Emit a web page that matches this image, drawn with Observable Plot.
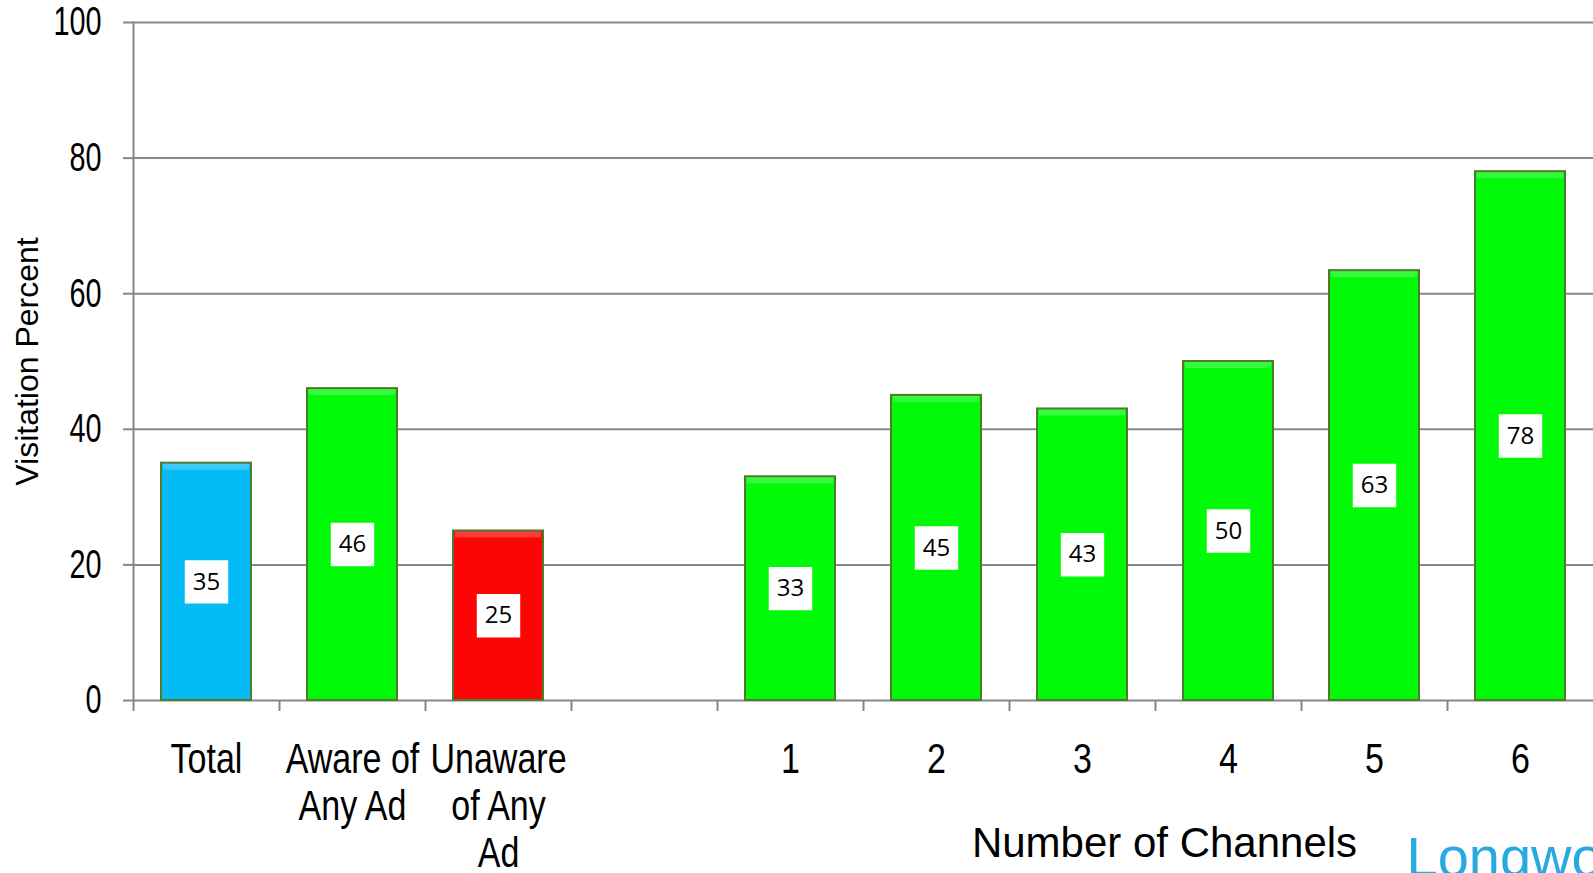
<!DOCTYPE html>
<html><head><meta charset="utf-8">
<script src="https://cdn.jsdelivr.net/npm/d3@7"></script>
<script src="https://cdn.jsdelivr.net/npm/@observablehq/plot@0.6"></script>
<style>
html,body{margin:0;padding:0;background:#fff;}
#chart svg{display:block;}
</style></head><body><div id="chart"></div>
<script>
// ---- data ----
const categories = ["Total", "Aware of Any Ad", "Unaware of Any Ad", " ", "1", "2", "3", "4", "5", "6"];
const tickLabels = ["Total", "Aware of\nAny Ad", "Unaware\nof Any\nAd", "", "1", "2", "3", "4", "5", "6"];
const barCategories = ["Total", "Aware of Any Ad", "Unaware of Any Ad", "1", "2", "3", "4", "5", "6"];
const barGroups = ["Total", "Aware", "Unaware", "Channels", "Channels", "Channels", "Channels", "Channels", "Channels"];
const visitationPercent = [35, 46, 25, 33, 45, 43, 50, 63.4, 78];
const yTicks = [0, 20, 40, 60, 80, 100];
const yLabel = "Visitation Percent";
const xLabel = "Number of Channels";
const logoText = "Longwoods";

// ---- styling ----
const groupDomain = ["Total", "Aware", "Unaware", "Channels"];
const groupColors = ["#05BBF5", "#00FA08", "#FE0505", "#00FA08"];
const W = 1593, H = 873, mL = 133, mR = 0, mT = 22, mB = 173;
const step = (W - mL - mR) / categories.length;
const sans = "'Liberation Sans',Arial,sans-serif";
const gray = "#878787";
const fmt = d3.format(".0f");

const data = barCategories.map((c, i) => ({cat: c, value: visitationPercent[i], group: barGroups[i]}));

const plot = Plot.plot({
  width: W, height: H,
  marginLeft: mL, marginRight: mR, marginTop: mT, marginBottom: mB,
  style: {fontFamily: sans, background: "#fff", overflow: "visible", color: "#000"},
  x: {type: "band", domain: categories, padding: 0, axis: null},
  y: {domain: [0, 100], axis: null},
  color: {domain: groupDomain, range: groupColors},
  marks: [
    Plot.gridY(yTicks, {stroke: gray, strokeOpacity: 1, strokeWidth: 2}),
    Plot.frame({anchor: "left", stroke: gray, strokeWidth: 2}),
    Plot.axisY(yTicks, {tickSize: 10, tickPadding: 22, stroke: gray, strokeWidth: 2, strokeOpacity: 1,
      fontSize: 40, fill: "#000", label: null}),
    Plot.axisX({tickSize: 11, tickFormat: () => "", dx: -step / 2, stroke: gray, strokeWidth: 2, strokeOpacity: 1, label: null}),
    Plot.axisX({tickSize: 0, tickPadding: 39, tickFormat: d => tickLabels[categories.indexOf(d)],
      fontSize: 42, lineHeight: 1.12, fill: "#000", label: null}),
    Plot.barY(data, {x: "cat", y: "value", fill: "group", stroke: "#4E7B2E", strokeWidth: 2,
      insetLeft: 28, insetRight: 28, style: "filter: drop-shadow(2px 1px 1.5px rgba(0,0,0,0.35))"}),
    Plot.barY(data, {x: "cat", y1: "value", y2: "value", fill: "#fff", fillOpacity: 0.22,
      insetLeft: 30, insetRight: 30, insetTop: 1, insetBottom: -7}),
    Plot.dot(data, {x: "cat", y: d => d.value / 2, symbol: "square", r: 24.5, fill: "#fff", stroke: null}),
    Plot.text(data, {x: "cat", y: d => d.value / 2, text: d => fmt(d.value), fontSize: 24,
      fontFamily: "'Open Sans',sans-serif", fill: "#000"}),
    Plot.text([yLabel], {frameAnchor: "left", textAnchor: "middle", rotate: -90, dx: -106, fontSize: 32, fill: "#000"}),
    Plot.text([xLabel], {frameAnchor: "bottom", x: () => "4", dx: -64, dy: 143, lineAnchor: "middle", fontSize: 42, fill: "#000"}),
    Plot.text([logoText], {frameAnchor: "bottom-right", textAnchor: "start", lineAnchor: "top", dx: -187, dy: 136,
      fontSize: 56, fill: "#29A9E1", fontFamily: sans})
  ]
});
// emulate the condensed (Arial Narrow-like) face of the tick labels
d3.select(plot).selectAll('g[aria-label="y-axis tick label"] text')
  .attr("transform", function() { return (this.getAttribute("transform") || "") + " scale(0.72,1)"; });
d3.select(plot).selectAll('g[aria-label="x-axis tick label"] text')
  .attr("transform", function() { return (this.getAttribute("transform") || "") + " scale(0.81,1)"; });
document.getElementById("chart").appendChild(plot);
</script>
</body></html>
